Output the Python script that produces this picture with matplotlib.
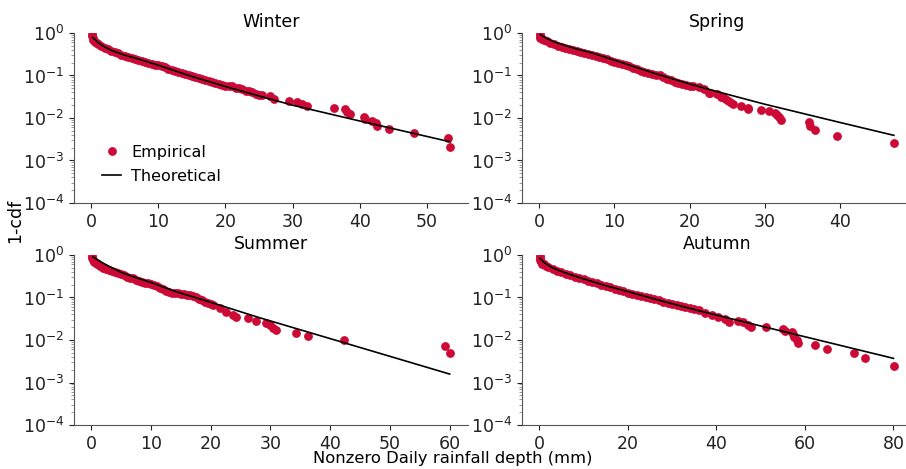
import numpy as np
import matplotlib
matplotlib.use("Agg")
import matplotlib.pyplot as plt
from matplotlib.ticker import LogLocator, NullFormatter

# Empirical 1-cdf and theoretical curve for each season
winter_x = [0.1, 0.1, 0.2, 0.3, 0.5, 0.8, 1.0, 1.5, 2.0, 2.5, 3.0, 3.5, 4.0, 4.5, 5.0, 5.5, 6.0, 6.5,
            7.0, 7.5, 8.0, 8.5, 9.0, 9.5, 10, 10.5, 11, 11.5, 12, 12.5, 13, 13.5, 14, 14.5, 15, 15.5,
            16, 16.5, 17, 17.5, 18, 18.5, 19, 19.5, 20, 20.5, 21, 21.5, 22, 22.5, 23, 23.5, 24, 24.5,
            25, 25.4, 26.6, 27.2, 29.5, 30.6, 31.4, 32.1, 36.2, 37.8, 38.1, 38.6, 40.6, 40.8, 41.9,
            42.4, 42.6, 44.4, 48.1, 53.1, 53.4]
winter_y = [0.95, 0.85, 0.75, 0.68, 0.62, 0.57, 0.54, 0.49, 0.45, 0.41, 0.38, 0.35, 0.33, 0.31, 0.29,
            0.275, 0.26, 0.245, 0.235, 0.225, 0.21, 0.2, 0.19, 0.18, 0.172, 0.163, 0.155, 0.145, 0.135,
            0.128, 0.12, 0.113, 0.106, 0.1, 0.095, 0.09, 0.085, 0.081, 0.077, 0.073, 0.07, 0.066, 0.062,
            0.059, 0.057, 0.058, 0.056, 0.052, 0.05, 0.047, 0.044, 0.042, 0.04, 0.037, 0.035, 0.0348,
            0.033, 0.0275, 0.0256, 0.0242, 0.021, 0.0191, 0.0175, 0.016, 0.0141, 0.0124, 0.0107, 0.0095,
            0.0085, 0.0075, 0.0066, 0.0054, 0.0044, 0.0033, 0.0021]
winter_tx = [0.2, 1, 2, 3, 5, 7, 10, 15, 20, 25, 30, 40, 53.5]
winter_ty = [0.79, 0.60, 0.47, 0.39, 0.30, 0.245, 0.174, 0.095, 0.055, 0.033, 0.020, 0.0085, 0.00275]

spring_x = [0.1, 0.1, 0.2, 0.4, 0.7, 1.0, 1.5, 2, 2.5, 3, 3.5, 4, 4.5, 5, 5.5, 6, 6.5, 7, 7.5, 8, 8.5,
            9, 9.5, 10, 10.5, 11, 11.5, 12, 12.5, 13, 13.5, 14, 14.5, 15, 15.5, 16, 16.5, 17, 17.5, 18,
            18.5, 19, 19.5, 20, 20.5, 21.2, 21.9, 22.5, 22.7, 23.6, 24.1, 24.5, 24.9, 25.4, 25.8, 26.8,
            27.7, 27.8, 29.4, 30.5, 31.3, 31.6, 31.9, 32.1, 35.8, 35.9, 36.6, 39.5, 47.1]
spring_y = [0.95, 0.85, 0.78, 0.72, 0.67, 0.63, 0.58, 0.54, 0.5, 0.47, 0.45, 0.42, 0.4, 0.38, 0.36, 0.34,
            0.32, 0.3, 0.285, 0.27, 0.255, 0.24, 0.22, 0.205, 0.195, 0.185, 0.175, 0.165, 0.15, 0.14,
            0.13, 0.12, 0.113, 0.108, 0.105, 0.1, 0.09, 0.082, 0.077, 0.072, 0.067, 0.063, 0.06, 0.057,
            0.056, 0.0546, 0.0472, 0.0394, 0.038, 0.036, 0.0318, 0.029, 0.0265, 0.0238, 0.021, 0.0195,
            0.0175, 0.0163, 0.0157, 0.0146, 0.0133, 0.0118, 0.0104, 0.009, 0.0079, 0.0065, 0.0052,
            0.0038, 0.0026]
spring_tx = [0.2, 1, 2, 3, 5, 7, 10, 15, 20, 25, 30, 40, 47.1]
spring_ty = [0.91, 0.75, 0.62, 0.54, 0.42, 0.34, 0.23, 0.117, 0.063, 0.036, 0.021, 0.0078, 0.0039]

summer_x = [0.1, 0.1, 0.2, 0.4, 0.7, 1, 1.5, 2, 2.5, 3, 3.5, 4, 4.5, 5, 5.5, 6, 6.5, 7, 7.5, 8, 8.5, 9,
            9.5, 10, 10.5, 11, 11.5, 12, 12.5, 13, 13.5, 14, 14.5, 15, 15.5, 16, 16.5, 17, 17.5, 18,
            18.5, 19, 19.5, 20, 20.4, 21.5, 22.6, 23.7, 24.3, 26.2, 27.5, 29.3, 29.9, 30.4, 31.0, 34.2,
            36.2, 42.3, 59.2, 60.1]
summer_y = [0.95, 0.85, 0.78, 0.7, 0.64, 0.6, 0.55, 0.5, 0.47, 0.44, 0.41, 0.39, 0.37, 0.35, 0.33, 0.31,
            0.29, 0.28, 0.265, 0.25, 0.235, 0.225, 0.215, 0.205, 0.195, 0.185, 0.17, 0.16, 0.145, 0.135,
            0.13, 0.128, 0.125, 0.12, 0.118, 0.115, 0.112, 0.108, 0.1, 0.093, 0.087, 0.08, 0.075, 0.07,
            0.0667, 0.0556, 0.0448, 0.0387, 0.0355, 0.0324, 0.028, 0.0247, 0.0225, 0.0195, 0.0172,
            0.0144, 0.0124, 0.0098, 0.0074, 0.0049]
summer_tx = [0.3, 1, 2, 3, 5, 7, 10, 14, 20, 28, 42, 60]
summer_ty = [0.9, 0.78, 0.64, 0.54, 0.39, 0.31, 0.225, 0.14, 0.077, 0.034, 0.0089, 0.00158]

autumn_x = [0.1, 0.1, 0.2, 0.4, 0.7, 1, 1.5, 2, 3, 4, 5, 6, 7, 8, 9, 10, 11, 12, 13, 14, 15, 16, 17,
            18, 19, 20, 21, 22, 23, 24, 25, 26, 27, 28, 29, 30, 31, 32, 33, 34, 35, 36.0, 37.5, 39.0,
            40.4, 41.9, 42.8, 44.9, 46.0, 47.2, 47.9, 51.3, 55.0, 55.5, 57.0, 57.2, 57.6, 58.2, 58.4,
            62.3, 64.9, 71.0, 73.6, 80.1]
autumn_y = [0.95, 0.85, 0.75, 0.68, 0.63, 0.6, 0.56, 0.52, 0.47, 0.43, 0.39, 0.36, 0.335, 0.31, 0.29,
            0.27, 0.25, 0.23, 0.215, 0.2, 0.185, 0.172, 0.16, 0.15, 0.14, 0.13, 0.122, 0.113, 0.106, 0.1,
            0.095, 0.09, 0.085, 0.08, 0.076, 0.072, 0.068, 0.064, 0.06, 0.057, 0.054, 0.0508, 0.044,
            0.0387, 0.0354, 0.0306, 0.027, 0.0285, 0.026, 0.0225, 0.0206, 0.0199, 0.0178, 0.0163,
            0.0157, 0.0138, 0.012, 0.01, 0.0087, 0.0076, 0.0061, 0.005, 0.0038, 0.0025]
autumn_tx = [0.2, 1, 2, 3, 5, 7, 10, 15, 20, 28, 36, 50, 65, 80]
autumn_ty = [0.83, 0.68, 0.575, 0.5, 0.41, 0.347, 0.275, 0.19, 0.138, 0.081, 0.049, 0.0214, 0.0089, 0.0037]

seasons = ['Winter', 'Spring', 'Summer', 'Autumn']
emp = [(winter_x, winter_y), (spring_x, spring_y), (summer_x, summer_y), (autumn_x, autumn_y)]
theo = [(winter_tx, winter_ty), (spring_tx, spring_ty), (summer_tx, summer_ty), (autumn_tx, autumn_ty)]

red = '#cc0a35'

fig = plt.figure(figsize=(9.06, 4.69), dpi=100)
# axes positions in figure fraction (left, bottom, width, height)
positions = [
    [0.0817, 0.5672, 0.435, 0.3625],
    [0.5762, 0.5672, 0.430, 0.3625],
    [0.0817, 0.0938, 0.435, 0.3625],
    [0.5762, 0.0938, 0.430, 0.3625],
]

for i, name in enumerate(seasons):
    ax = fig.add_axes(positions[i])
    ex, ey = emp[i]
    tx, ty = theo[i]
    ax.plot(ex, ey, 'o', color=red, ms=5.3, mec=red, label='Empirical', zorder=2)
    ax.plot(tx, ty, '-', color='black', lw=1.2, label='Theoretical', zorder=3)
    ax.set_yscale('log')
    ax.set_ylim(1e-4, 1)
    ax.set_yticks([1e-4, 1e-3, 1e-2, 1e-1, 1])
    ax.yaxis.set_minor_locator(LogLocator(base=10, subs=np.arange(2, 10), numticks=20))
    ax.yaxis.set_minor_formatter(NullFormatter())
    ax.set_title(name, fontsize=12.5, pad=4)
    ax.tick_params(labelsize=12.5, colors='#222222')
    ax.tick_params(which='minor', colors='#888888')
    ax.spines['top'].set_visible(False)
    ax.spines['right'].set_visible(False)
    for s in ['left', 'bottom']:
        ax.spines[s].set_color('#555555')
    if i == 0:
        ax.legend(loc='lower left', bbox_to_anchor=(0.035, 0.03), frameon=False, fontsize=11.5,
                  handlelength=1.2, handletextpad=0.6, labelspacing=0.55)

fig.text(0.017, 0.53, '1-cdf', rotation=90, va='center', ha='center', fontsize=12.5)
fig.text(0.5, 0.022, 'Nonzero Daily rainfall depth (mm)', va='center', ha='center', fontsize=11.8)

fig.savefig('out.png', dpi=100)
